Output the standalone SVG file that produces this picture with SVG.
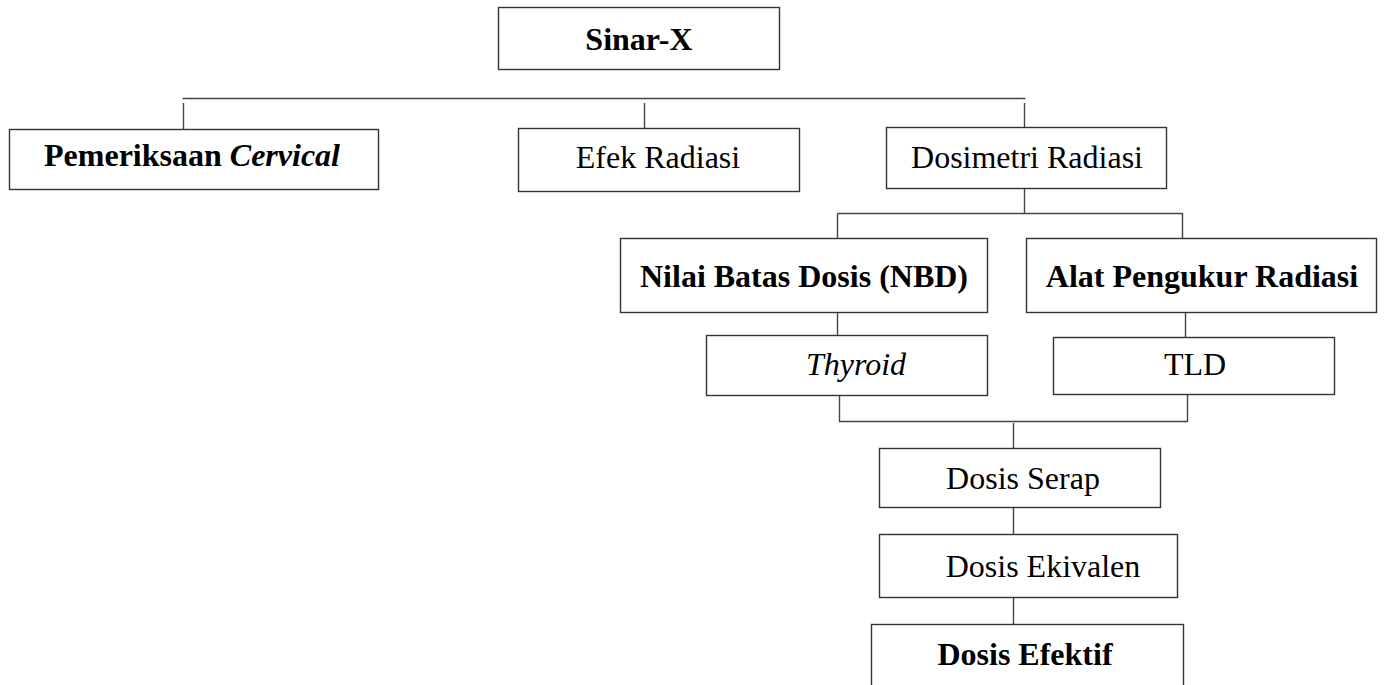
<svg xmlns="http://www.w3.org/2000/svg" width="1390" height="685" viewBox="0 0 1390 685">
<style>
.box{fill:#fff;stroke:#333;stroke-width:1.4}
.ln{fill:none;stroke:#444;stroke-width:1.4}
.t{font-family:'Liberation Serif','Times New Roman',Times,'DejaVu Serif',serif;font-size:32px;fill:#000;text-anchor:middle}
.b{font-weight:bold}
.i{font-style:italic}
</style>
<rect width="1390" height="685" fill="#fff"/>
<g id="connectors">
<path class="ln" d="M182.5 98.5H1025.5"/>
<path class="ln" d="M183.5 103V129"/>
<path class="ln" d="M644.5 103V128"/>
<path class="ln" d="M1024.5 103V127"/>
<path class="ln" d="M1024.5 188V213.5H1182.5V238"/>
<path class="ln" d="M837.5 213.5H1024.5"/>
<path class="ln" d="M837.5 213.5V238"/>
<path class="ln" d="M837.5 312V335"/>
<path class="ln" d="M1185.5 312V337"/>
<path class="ln" d="M839.5 395V421.5H1187.5V395"/>
<path class="ln" d="M1013.5 423V448"/>
<path class="ln" d="M1013.5 507V534"/>
<path class="ln" d="M1013.5 597V624"/>
</g>
<g id="sinar-x"><rect class="box" x="498.5" y="7.5" width="281" height="62"/><text class="t b" font-family="Liberation Serif" x="639" y="50">Sinar-X</text></g>
<g id="pemeriksaan"><rect class="box" x="9.5" y="129.5" width="369" height="60"/><text class="t b" font-family="Liberation Serif" x="192" y="166">Pemeriksaan <tspan class="i">Cervical</tspan></text></g>
<g id="efek"><rect class="box" x="518.5" y="128.5" width="281" height="63"/><text class="t" font-family="Liberation Serif" x="658" y="168">Efek Radiasi</text></g>
<g id="dosimetri"><rect class="box" x="886.5" y="127.5" width="280" height="61"/><text class="t" font-family="Liberation Serif" x="1027" y="168">Dosimetri Radiasi</text></g>
<g id="nbd"><rect class="box" x="620.5" y="238.5" width="367" height="74"/><text class="t b" font-family="Liberation Serif" x="804" y="287">Nilai Batas Dosis (NBD)</text></g>
<g id="alat"><rect class="box" x="1026.5" y="238.5" width="350" height="74"/><text class="t b" font-family="Liberation Serif" x="1202" y="287">Alat Pengukur Radiasi</text></g>
<g id="thyroid"><rect class="box" x="706.5" y="335.5" width="281" height="60"/><text class="t i" font-family="Liberation Serif" x="856" y="375">Thyroid</text></g>
<g id="tld"><rect class="box" x="1053.5" y="337.5" width="281" height="57"/><text class="t" font-family="Liberation Serif" x="1195" y="375">TLD</text></g>
<g id="serap"><rect class="box" x="879.5" y="448.5" width="281" height="59"/><text class="t" font-family="Liberation Serif" x="1023" y="489">Dosis Serap</text></g>
<g id="ekivalen"><rect class="box" x="879.5" y="534.5" width="298" height="63"/><text class="t" font-family="Liberation Serif" x="1043" y="577">Dosis Ekivalen</text></g>
<g id="efektif"><rect class="box" x="871.5" y="624.5" width="312" height="80"/><text class="t b" font-family="Liberation Serif" x="1025" y="665">Dosis Efektif</text></g>
</svg>
